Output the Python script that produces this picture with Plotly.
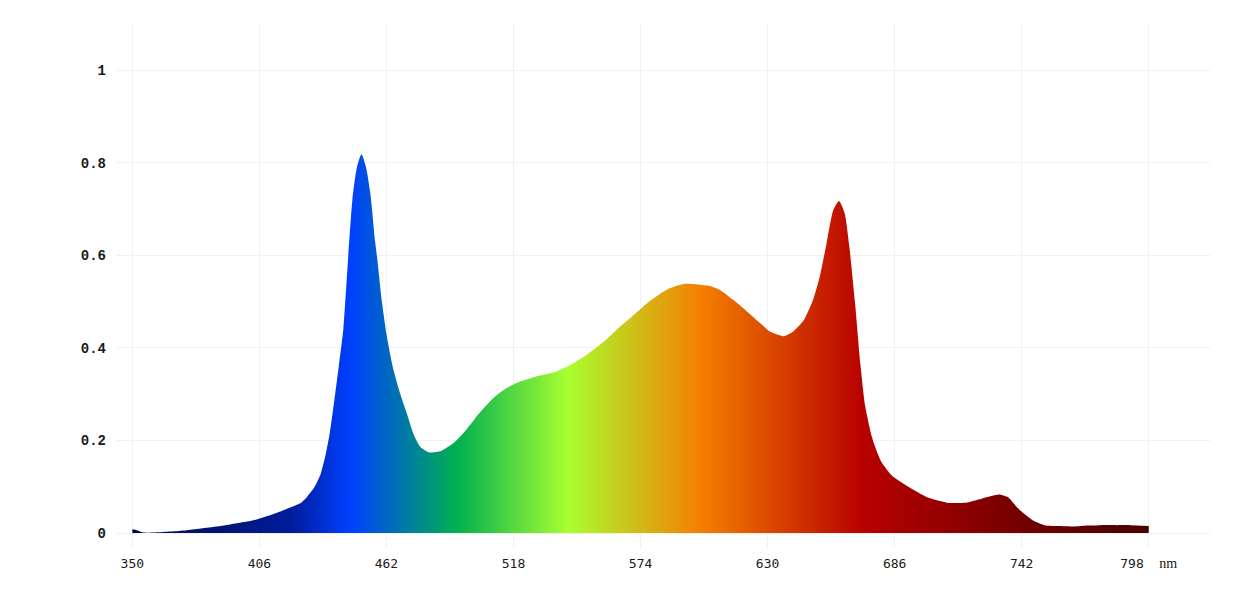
import plotly.graph_objects as go

wavelength = [350, 352, 355, 360, 367, 374, 381, 389, 396, 403, 411, 418, 424, 427, 430,
              433, 435, 437, 439, 441, 443, 445, 447, 449, 451, 453, 455, 457, 458, 460,
              462, 465, 468, 471, 474, 477, 481, 486, 492, 497, 503, 509, 515, 521, 528,
              536, 543, 550, 558, 565, 571, 577, 583, 587, 593, 599, 605, 609, 615, 621,
              627, 631, 637, 641, 646, 650, 653, 656, 659, 661.5, 664, 666, 668.5, 671, 673,
              676, 680, 685, 693, 700, 710, 718, 725, 732, 736, 740, 743, 747, 752, 759,
              765, 771, 777, 784, 790, 798]
intensity = [0.008, 0.006, 0.001, 0.001, 0.003, 0.006, 0.010, 0.015, 0.021, 0.027, 0.039, 0.052, 0.064, 0.078, 0.097,
             0.127, 0.165, 0.215, 0.285, 0.36, 0.44, 0.585, 0.72, 0.79, 0.818, 0.79, 0.73, 0.63, 0.59, 0.50,
             0.43, 0.355, 0.302, 0.258, 0.213, 0.186, 0.174, 0.177, 0.196, 0.222, 0.259, 0.291, 0.313, 0.327, 0.338,
             0.347, 0.363, 0.384, 0.414, 0.446, 0.471, 0.497, 0.518, 0.529, 0.538, 0.537, 0.533, 0.525, 0.503, 0.478,
             0.452, 0.435, 0.425, 0.434, 0.46, 0.503, 0.554, 0.626, 0.698, 0.717, 0.69, 0.62, 0.50, 0.36, 0.275,
             0.207, 0.155, 0.123, 0.097, 0.078, 0.065, 0.066, 0.075, 0.083, 0.077, 0.055, 0.042, 0.027, 0.017, 0.015,
             0.014, 0.016, 0.017, 0.017, 0.017, 0.015]

x_ticks = [350, 406, 462, 518, 574, 630, 686, 742, 798]
x_ticktext = ["350", "406", "462", "518", "574", "630", "686", "742",
              "798&#160;&#160;<span style='font-family:Liberation Serif;font-size:14px'>nm</span>"]
y_ticks = [0, 0.2, 0.4, 0.6, 0.8, 1]
y_ticktext = ["0", "0.2", "0.4", "0.6", "0.8", "1"]

# spectrum colour stops (wavelength, colour)
stop_nm = [350, 420, 446, 493, 542, 600, 672, 745, 798]
stop_col = ["#000a4a", "#001c9c", "#0040ff", "#00b050", "#a8ff30", "#f58000", "#b80000", "#700000", "#4a0000"]
lo, hi = stop_nm[0], stop_nm[-1]
colorscale = [[(w - lo) / (hi - lo), c] for w, c in zip(stop_nm, stop_col)]

fig = go.Figure()
fig.add_trace(go.Scatter(
    x=wavelength, y=intensity, mode="lines",
    line=dict(width=0, shape="spline", smoothing=0.6),
    fill="tozeroy",
    fillgradient=dict(type="horizontal", colorscale=colorscale, start=lo, stop=hi),
    hoverinfo="skip", showlegend=False,
))

grid = "#f1f1f1"
fig.update_layout(
    width=1228, height=601,
    margin=dict(l=108, r=26, t=16, b=61),
    paper_bgcolor="white", plot_bgcolor="white",
    xaxis=dict(range=[342.8, 825.0], tickvals=x_ticks, ticktext=x_ticktext,
               showgrid=True, gridcolor=grid, gridwidth=1, zeroline=False, showline=False,
               ticks="", ticklabelstandoff=6,
               tickfont=dict(family="DejaVu Sans Mono", size=13, color="#1a1a1a")),
    yaxis=dict(range=[-0.0324, 1.0994], tickvals=y_ticks, ticktext=y_ticktext,
               showgrid=True, gridcolor=grid, gridwidth=1, zeroline=False, showline=False,
               ticks="", ticklabelstandoff=9,
               tickfont=dict(family="Liberation Mono", size=14, color="#1a1a1a", weight="bold")),
)

fig.write_html("out.html")
